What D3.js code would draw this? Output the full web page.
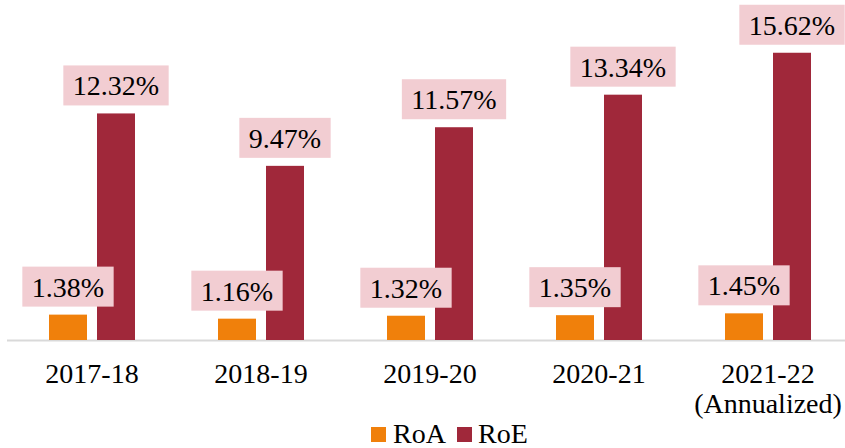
<!DOCTYPE html>
<html>
<head>
<meta charset="utf-8">
<script src="https://cdn.jsdelivr.net/npm/d3@7"></script>
<style>
  html, body { margin: 0; padding: 0; background: #fff; }
  svg { display: block; }
  text { font-family: "Liberation Serif", "DejaVu Serif", serif; fill: #000; }
</style>
</head>
<body>
<svg id="chart" width="845" height="448"></svg>
<script>
const categories = ["2017-18", "2018-19", "2019-20", "2020-21", "2021-22\n(Annualized)"];
const seriesNames = ["RoA", "RoE"];
const roaValues = [1.38, 1.16, 1.32, 1.35, 1.45];
const roeValues = [12.32, 9.47, 11.57, 13.34, 15.62];
const seriesColors = ["#F0800B", "#A0283A"];

const svg = d3.select("#chart");
const W = 845, H = 448;
const baseY = 340;

const x0 = d3.scaleBand().domain(categories).range([7.5, 852.5]).paddingInner(0).paddingOuter(0);
const step = x0.bandwidth();
const x1 = d3.scaleBand().domain(seriesNames)
  .range([(step - 86) / 2, (step + 86) / 2])
  .paddingInner(2 - 86 / 48).paddingOuter(0);
const y = d3.scaleLinear().domain([0, 16]).range([baseY, baseY - 16 * 18.39]);

const data = categories.map((c, i) => ({
  cat: c,
  vals: [
    { s: seriesNames[0], v: roaValues[i], color: seriesColors[0] },
    { s: seriesNames[1], v: roeValues[i], color: seriesColors[1] }
  ]
}));

// axis line
svg.append("line")
  .attr("x1", 7).attr("x2", 845)
  .attr("y1", baseY + 0.5).attr("y2", baseY + 0.5)
  .attr("stroke", "#d9d9d9").attr("stroke-width", 2);

const groups = svg.selectAll("g.grp").data(data).enter().append("g")
  .attr("class", "grp")
  .attr("transform", d => `translate(${x0(d.cat)},0)`);

groups.selectAll("rect.bar").data(d => d.vals).enter().append("rect")
  .attr("class", "bar")
  .attr("x", d => x1(d.s))
  .attr("width", x1.bandwidth())
  .attr("y", d => y(d.v))
  .attr("height", d => baseY - y(d.v))
  .attr("fill", d => d.color);

// data labels
const labelG = groups.selectAll("g.lbl").data(d => d.vals).enter().append("g").attr("class", "lbl");
labelG.each(function(d) {
  const g = d3.select(this);
  const cx = x1(d.s) + x1.bandwidth() / 2;
  const boxBottom = y(d.v) - 8;
  const boxH = 40;
  const rect = g.append("rect").attr("fill", "#F2CDD2");
  const t = g.append("text")
    .attr("x", cx)
    .attr("y", boxBottom - boxH + 30)
    .attr("text-anchor", "middle")
    .attr("font-size", 28)
    .text(d.v.toFixed(2) + "%");
  const tw = t.node().getComputedTextLength();
  const bw = tw + 19;
  rect.attr("x", cx - bw / 2).attr("y", boxBottom - boxH).attr("width", bw).attr("height", boxH);
});

// category labels
groups.append("text")
  .attr("text-anchor", "middle")
  .attr("font-size", 28)
  .each(function(d) {
    const lines = d.cat.split("\n");
    const t = d3.select(this);
    lines.forEach((ln, i) => {
      t.append("tspan").attr("x", step / 2).attr("y", 383 + i * 30).text(ln);
    });
  });

// legend
const legend = svg.append("g");
const legendItems = [
  { name: seriesNames[0], color: seriesColors[0], sx: 371, tx: 393 },
  { name: seriesNames[1], color: seriesColors[1], sx: 457, tx: 478 }
];
legendItems.forEach(it => {
  legend.append("rect").attr("x", it.sx).attr("y", 427).attr("width", 15).attr("height", 15).attr("fill", it.color);
  legend.append("text").attr("x", it.tx).attr("y", 443).attr("font-size", 28).text(it.name);
});
</script>
</body>
</html>
